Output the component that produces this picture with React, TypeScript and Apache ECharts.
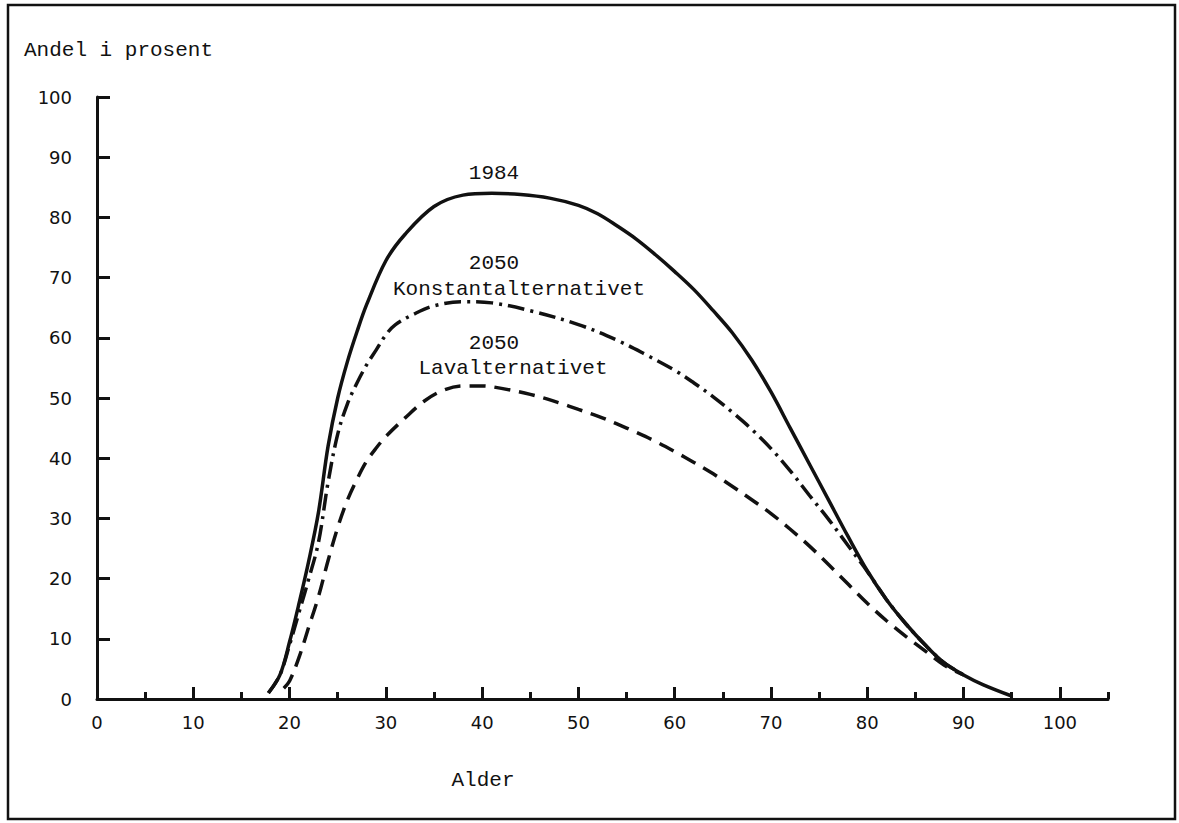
import React, { useEffect, useRef } from "react";
import * as echarts from "echarts";

const ages1984 = [17.8, 19, 20, 21, 22, 23, 24, 25, 26, 27, 28, 30, 32, 35, 38, 41, 44, 47, 50, 52, 54, 56, 58, 60, 62, 64, 66, 68, 70, 72, 74, 76, 78, 80, 82, 84, 86, 88, 90, 92, 95];
const vals1984 = [1, 4, 9.5, 16, 23, 31, 42, 50, 56, 61, 65.5, 72.8, 77.2, 81.8, 83.7, 84, 83.8, 83.2, 82, 80.6, 78.6, 76.4, 73.8, 71, 68, 64.5, 60.8, 56.3, 51, 45, 39, 33, 27, 21.3, 16.5, 12.5, 9, 6, 4, 2.4, 0.5];

const agesKonstant = [17.8, 19, 20, 21, 22, 23, 24, 25, 26, 27, 28, 29, 30, 31, 33, 35, 38, 41, 45, 50, 54, 57, 60, 62, 64, 66, 68, 70, 72, 74, 76, 78, 80, 82, 84, 86, 88, 90];
const valsKonstant = [1, 4, 9, 14.5, 20, 26, 36, 44, 49, 52.5, 55.5, 58, 60.5, 62.2, 64, 65.3, 66, 65.8, 64.5, 62.2, 59.6, 57.2, 54.6, 52.5, 50.2, 47.6, 44.8, 41.6, 37.9, 33.8, 29.8, 25.5, 21.2, 16.5, 12.5, 9, 6, 4];

const agesLav = [19.4, 20, 21, 22, 23, 24, 25, 26, 27, 28, 29, 30, 32, 34, 36, 38, 40, 42, 45, 48, 50, 52, 54, 56, 58, 60, 62, 64, 66, 68, 70, 72, 74, 76, 78, 80, 82, 84, 86, 88, 90];
const valsLav = [1.8, 3, 7, 12, 17, 23, 28.5, 33, 36.5, 39.5, 41.7, 43.6, 46.7, 49.5, 51.3, 52, 52, 51.6, 50.6, 49.2, 48.1, 47, 45.7, 44.3, 42.8, 41.1, 39.3, 37.4, 35.3, 33.1, 30.8, 28.2, 25.4, 22.3, 19.1, 15.9, 13, 10.4, 8, 5.6, 4];

const xMinorTicks = [5, 15, 25, 35, 45, 55, 65, 75, 85, 95, 105];
const xMajorTicks = [10, 20, 30, 40, 50, 60, 70, 80, 90, 100];
const xTickLabels = [0, 10, 20, 30, 40, 50, 60, 70, 80, 90, 100];

const yTitle = "Andel i prosent";
const xTitle = "Alder";

const pair = (xs: number[], ys: number[]) => xs.map((x, i) => [x, ys[i]]);

const INK = "#111";
const MONO = "'Liberation Mono', 'DejaVu Sans Mono', monospace";
const SANS = "'DejaVu Sans', sans-serif";

export default function App() {
  const ref = useRef<HTMLDivElement>(null);
  useEffect(() => {
    if (!ref.current) return;
    const chart = echarts.init(ref.current, undefined, { renderer: "svg" });
    const labelText = (text: string, x: number, y: number, align = "center") => ({
      type: "text",
      x,
      y,
      style: { text, fill: INK, font: `21px ${MONO}`, align, verticalAlign: "middle" },
    });
    chart.setOption({
      animation: false,
      backgroundColor: "#fff",
      grid: { left: 97, top: 97, width: 1011, height: 602, containLabel: false },
      xAxis: [
        {
          type: "value",
          position: "bottom",
          min: 0,
          max: 105,
          interval: 5,
          axisLine: { show: true, lineStyle: { color: INK, width: 3 } },
          axisTick: { show: true, inside: true, length: 7, customValues: xMinorTicks, lineStyle: { color: INK, width: 3 } },
          axisLabel: { show: false },
          splitLine: { show: false },
        },
        {
          type: "value",
          position: "bottom",
          min: 0,
          max: 105,
          interval: 5,
          axisLine: { show: false },
          axisTick: { show: true, inside: true, length: 12, customValues: xMajorTicks, lineStyle: { color: INK, width: 3 } },
          axisLabel: { show: true, customValues: xTickLabels, margin: 14, color: INK, fontSize: 18, fontFamily: SANS },
          splitLine: { show: false },
        },
      ],
      yAxis: {
        type: "value",
        min: 0,
        max: 100,
        interval: 10,
        axisLine: { show: true, lineStyle: { color: INK, width: 3 } },
        axisTick: { show: true, inside: true, length: 13, lineStyle: { color: INK, width: 3 } },
        axisLabel: { margin: 25, color: INK, fontSize: 18, fontFamily: SANS },
        splitLine: { show: false },
      },
      series: [
        {
          name: "1984",
          type: "line",
          data: pair(ages1984, vals1984),
          smooth: 0.35,
          showSymbol: false,
          lineStyle: { color: INK, width: 3.5, type: "solid" },
        },
        {
          name: "2050 Konstantalternativet",
          type: "line",
          data: pair(agesKonstant, valsKonstant),
          smooth: 0.35,
          showSymbol: false,
          lineStyle: { color: INK, width: 3.5, type: [17, 6, 3, 6] },
        },
        {
          name: "2050 Lavalternativet",
          type: "line",
          data: pair(agesLav, valsLav),
          smooth: 0.35,
          showSymbol: false,
          lineStyle: { color: INK, width: 3.5, type: [16, 9] },
        },
      ],
      graphic: [
        {
          type: "rect",
          shape: { x: 8, y: 5, width: 1167, height: 814 },
          style: { fill: "none", stroke: INK, lineWidth: 2.5 },
          silent: true,
        },
        labelText(yTitle, 24, 50, "left"),
        labelText("1984", 494, 173),
        labelText("2050", 494, 263),
        labelText("Konstantalternativet", 519, 289),
        labelText("2050", 494, 343),
        labelText("Lavalternativet", 513, 368),
        labelText(xTitle, 483, 780),
      ],
    });
    return () => chart.dispose();
  }, []);
  return <div ref={ref} style={{ position: "absolute", left: 0, top: 0, width: 1179, height: 823 }} />;
}
